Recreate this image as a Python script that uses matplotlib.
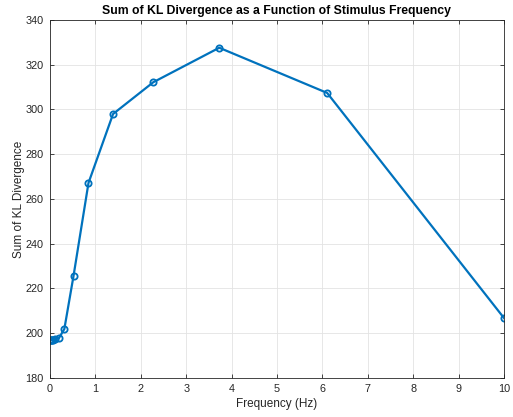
import matplotlib
matplotlib.use("Agg")
import matplotlib.pyplot as plt

plt.rcParams['font.family'] = ['Liberation Sans', 'DejaVu Sans']

freq_hz = [0.0100, 0.0164, 0.0268, 0.0439, 0.0720, 0.118, 0.193, 0.316,
           0.518, 0.848, 1.389, 2.276, 3.728, 6.105, 10.0]
kl_sum = [197.0, 197.0, 197.1, 197.1, 197.2, 197.4, 197.7, 201.9,
          225.6, 267.2, 298.0, 312.2, 327.6, 307.4, 206.8]

fig = plt.figure(figsize=(5.13, 4.17), dpi=100)
ax = fig.add_axes([50/513, 1 - 378/417, 454/513, 358/417])

ax.plot(freq_hz, kl_sum, color='#0072BD', linewidth=1.6, marker='o',
        markersize=4.5, markerfacecolor='none', markeredgewidth=1.3)

ax.set_xlim(0, 10)
ax.set_ylim(180, 340)
ax.set_xticks(range(0, 11))
ax.set_yticks(range(180, 341, 20))
ax.grid(True, color='#e3e3e3', linewidth=0.6)
ax.set_axisbelow(True)
ax.tick_params(direction='in', top=True, right=True, labelsize=7.8,
               colors='#262626', length=3, width=0.6, pad=4.5)
for s in ax.spines.values():
    s.set_color('#262626')
    s.set_linewidth(0.6)

ax.set_title('Sum of KL Divergence as a Function of Stimulus Frequency',
             fontsize=8.8, fontweight='bold', pad=4)
ax.set_xlabel('Frequency (Hz)', fontsize=8.5, color='#262626', labelpad=3)
ax.set_ylabel('Sum of KL Divergence', fontsize=8.5, color='#262626', labelpad=0)

fig.savefig('out.png', dpi=100, facecolor='white')
